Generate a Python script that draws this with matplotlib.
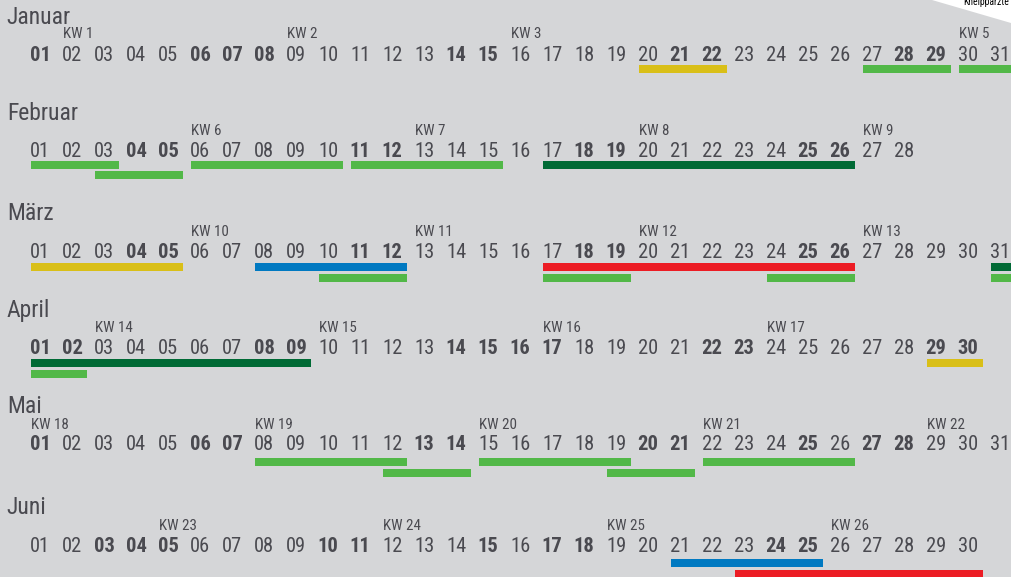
import matplotlib
matplotlib.use("Agg")
import matplotlib.pyplot as plt
from matplotlib.patches import Polygon
from matplotlib.transforms import Affine2D

# ---------------- data ----------------
months = ["Januar", "Februar", "März", "April", "Mai", "Juni"]
days_in_month = [31, 28, 31, 30, 31, 30]

bold_jan = [1, 6, 7, 8, 14, 15, 21, 22, 28, 29]
bold_feb = [4, 5, 11, 12, 18, 19, 25, 26]
bold_mar = [4, 5, 11, 12, 18, 19, 25, 26]
bold_apr = [1, 2, 8, 9, 14, 15, 16, 17, 22, 23, 29, 30]
bold_mai = [1, 6, 7, 13, 14, 20, 21, 25, 27, 28]
bold_jun = [3, 4, 5, 10, 11, 15, 17, 18, 24, 25]
bold_days = [bold_jan, bold_feb, bold_mar, bold_apr, bold_mai, bold_jun]

# (KW number, day where the week starts)
kw_jan = [(1, 2), (2, 9), (3, 16), (5, 30)]
kw_feb = [(6, 6), (7, 13), (8, 20), (9, 27)]
kw_mar = [(10, 6), (11, 13), (12, 20), (13, 27)]
kw_apr = [(14, 3), (15, 10), (16, 17), (17, 24)]
kw_mai = [(18, 1), (19, 8), (20, 15), (21, 22), (22, 29)]
kw_jun = [(23, 5), (24, 12), (25, 19), (26, 26)]
kw_labels = [kw_jan, kw_feb, kw_mar, kw_apr, kw_mai, kw_jun]

# events: (start day, end day, lane, category)
ev_jan = [(20, 22, 0, "gelb"), (27, 29, 0, "hellgruen"), (30, 32, 0, "hellgruen")]
ev_feb = [(1, 3, 0, "hellgruen"), (6, 10, 0, "hellgruen"), (11, 15, 0, "hellgruen"),
          (17, 26, 0, "dunkelgruen"), (3, 5, 1, "hellgruen")]
ev_mar = [(1, 5, 0, "gelb"), (8, 12, 0, "blau"), (17, 26, 0, "rot"), (31, 32, 0, "dunkelgruen"),
          (10, 12, 1, "hellgruen"), (17, 19, 1, "hellgruen"), (24, 26, 1, "hellgruen"),
          (31, 32, 1, "hellgruen")]
ev_apr = [(1, 9, 0, "dunkelgruen"), (29, 30, 0, "gelb"), (1, 2, 1, "hellgruen")]
ev_mai = [(8, 12, 0, "hellgruen"), (15, 19, 0, "hellgruen"), (22, 26, 0, "hellgruen"),
          (12, 14, 1, "hellgruen"), (19, 21, 1, "hellgruen")]
ev_jun = [(21, 25, 0, "blau"), (23, 30, 1, "rot")]
events = [ev_jan, ev_feb, ev_mar, ev_apr, ev_mai, ev_jun]

colors = {"hellgruen": "#52b848", "dunkelgruen": "#006a35", "gelb": "#d9bf18",
          "blau": "#0079c1", "rot": "#ec1c24"}

# ---------------- layout (pixel rows) ----------------
# month label baseline, KW baseline, numbers baseline, lane0 top, lane1 top
rows = [(24, 38, 61, 65, 75),
        (120, 135, 157, 161, 171),
        (220, 236, 258, 263, 274),
        (317, 332, 354, 359, 370),
        (413, 429, 450, 458, 469),
        (514, 530, 552, 559, 570)]

W, H = 1011, 577
fig = plt.figure(figsize=(W / 100, H / 100), dpi=100)
bg = "#d5d6d8"
fig.patch.set_facecolor(bg)
ax = fig.add_axes([0, 0, 1, 1])
ax.set_facecolor(bg)
x0 = 1 - 39.5 / 32
ax.set_xlim(x0, x0 + W / 32)
ax.set_ylim(H, 0)
ax.axis("off")

FONT = ["Roboto Condensed", "Roboto", "DejaVu Sans"]
tc = "#4a4a50"
L_OFF = 9 / 32
R_OFF = 15.5 / 32

for mi, m in enumerate(months):
    lb, kb, nb, l0, l1 = rows[mi]
    ax.text(-0.02, lb, m, family=FONT, fontsize=17, color=tc, ha="left", va="baseline")
    for d in range(1, days_in_month[mi] + 1):
        ax.text(d + 0.02, nb, f"{d:02d}", family=FONT, fontsize=14.8, color=tc, ha="center",
                va="baseline", fontweight="bold" if d in bold_days[mi] else "normal")
    for kw, d in kw_labels[mi]:
        ax.text(d - L_OFF + 0.01, kb, f"KW {kw}", family=FONT, fontsize=10.8, color=tc,
                ha="left", va="baseline")
    for s, e, lane, cat in events[mi]:
        top = l0 if lane == 0 else l1
        left = s - L_OFF
        right = e + R_OFF
        ax.barh(top, right - left, left=left, height=8, align="edge",
                color=colors[cat], linewidth=0)

# white corner label (partly outside the picture)
corner = Polygon([(932, 0), (W, 0), (W, 23)], closed=True, facecolor="white",
                 edgecolor="none")
corner.set_transform(Affine2D().scale(1, -1).translate(0, H))
fig.patches.append(corner)
fig.text(963 / W, 1 - 5 / H, "Kneippärzte", family=FONT, fontsize=7, color="black",
         ha="left", va="baseline")

fig.savefig("out.png", dpi=100, facecolor=bg)
